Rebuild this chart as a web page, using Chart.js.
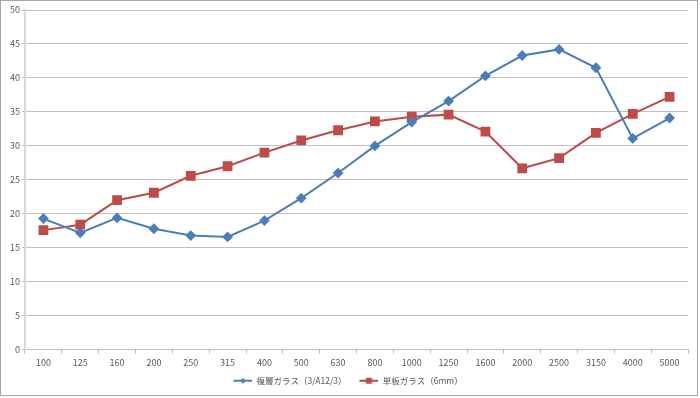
<!DOCTYPE html>
<html>
<head>
<meta charset="utf-8">
<script src="https://cdn.jsdelivr.net/npm/chart.js@4"></script>
<style>
  body { margin: 0; background: #fff; }
  #frame { width: 696px; height: 394px; border: 1px solid #a6a6a6; }
</style>
</head>
<body>
<div id="frame"><canvas id="soundChart" width="696" height="394"></canvas></div>
<script>
// Frequency bands (Hz)
const frequencies = ['100', '125', '160', '200', '250', '315', '400', '500', '630', '800',
                     '1000', '1250', '1600', '2000', '2500', '3150', '4000', '5000'];

// 複層ガラス (3/A12/3)
const doubleGlass = [19.3, 17.2, 19.4, 17.8, 16.8, 16.6, 19.0, 22.3, 26.0, 30.0,
                     33.5, 36.6, 40.3, 43.3, 44.2, 41.5, 31.1, 34.1];

// 単板ガラス (6mm)
const singleGlass = [17.6, 18.4, 22.0, 23.1, 25.6, 27.0, 29.0, 30.8, 32.3, 33.6,
                     34.3, 34.6, 32.1, 26.7, 28.2, 31.9, 34.7, 37.2];

const seriesNames = ['複層ガラス（3/A12/3）', '単板ガラス（6mm）'];

const BLUE = '#4a7ebb';
const RED = '#be4b48';
const TEXT = '#595959';
const GRID = '#c0c0c0';
const FONT = 'Noto Sans CJK JP';

// Small line + marker icon for the legend, like Excel draws it.
// The blank strip on the left gives the gap between legend entries.
function legendIcon(color, style) {
    const c = document.createElement('canvas');
    c.width = 26;
    c.height = 10;
    const g = c.getContext('2d');
    g.strokeStyle = color;
    g.lineWidth = 2;
    g.beginPath();
    g.moveTo(7, 5);
    g.lineTo(26, 5);
    g.stroke();
    g.fillStyle = color;
    g.beginPath();
    if (style === 'diamond') {
        g.moveTo(16.5, 2);
        g.lineTo(19.5, 5);
        g.lineTo(16.5, 8);
        g.lineTo(13.5, 5);
    } else {
        g.rect(13.5, 2, 6, 6);
    }
    g.fill();
    return c;
}

const icons = [legendIcon(BLUE, 'diamond'), legendIcon(RED, 'square')];

const ctx = document.getElementById('soundChart').getContext('2d');

new Chart(ctx, {
    type: 'line',
    data: {
        labels: frequencies,
        datasets: [{
            label: seriesNames[0],
            data: doubleGlass,
            borderColor: BLUE,
            backgroundColor: BLUE,
            borderWidth: 2,
            pointStyle: 'rectRot',
            pointRadius: 4,
            pointHoverRadius: 4,
            tension: 0
        }, {
            label: seriesNames[1],
            data: singleGlass,
            borderColor: RED,
            backgroundColor: RED,
            borderWidth: 2,
            pointStyle: 'rect',
            pointRadius: 5.5,
            pointHoverRadius: 5.5,
            tension: 0
        }]
    },
    options: {
        responsive: false,
        devicePixelRatio: 1,
        animation: false,
        layout: {
            padding: { top: 9, right: 9, left: 0, bottom: 0 }
        },
        plugins: {
            title: { display: false },
            tooltip: { enabled: false },
            legend: {
                position: 'bottom',
                labels: {
                    usePointStyle: true,
                    pointStyleWidth: 26,
                    padding: 6,
                    color: TEXT,
                    font: { family: FONT, size: 8.5 },
                    generateLabels: chart => chart.data.datasets.map((ds, i) => ({
                        text: ds.label,
                        fontColor: TEXT,
                        pointStyle: icons[i],
                        datasetIndex: i,
                        lineWidth: 0,
                        strokeStyle: 'transparent',
                        fillStyle: ds.borderColor
                    }))
                }
            }
        },
        scales: {
            x: {
                offset: true,
                grid: {
                    offset: true,
                    drawOnChartArea: false,
                    drawTicks: true,
                    tickLength: 4,
                    color: GRID
                },
                border: { color: GRID, width: 1 },
                ticks: {
                    color: TEXT,
                    padding: 3,
                    maxRotation: 0,
                    autoSkip: false,
                    font: { family: FONT, size: 9 }
                }
            },
            y: {
                min: 0,
                max: 50,
                afterFit: scale => { scale.width = 24; },
                grid: {
                    color: GRID,
                    drawTicks: true,
                    tickLength: 3
                },
                border: { color: '#d9d9d9', width: 2 },
                ticks: {
                    stepSize: 5,
                    color: TEXT,
                    padding: 2,
                    font: { family: FONT, size: 9 }
                }
            }
        }
    }
});
</script>
</body>
</html>
